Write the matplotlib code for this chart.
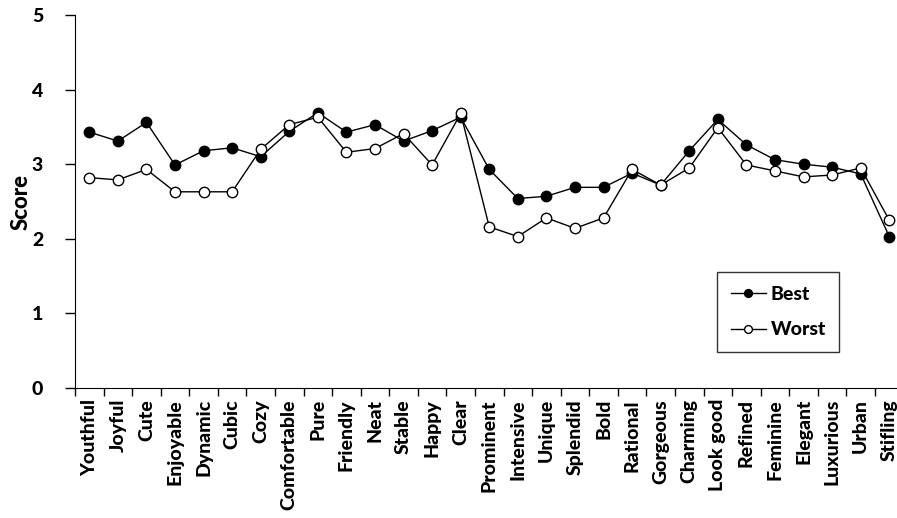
import matplotlib
matplotlib.use("Agg")
import matplotlib.pyplot as plt
import numpy as np

categories = ["Youthful", "Joyful", "Cute", "Enjoyable", "Dynamic", "Cubic", "Cozy",
              "Comfortable", "Pure", "Friendly", "Neat", "Stable", "Happy", "Clear",
              "Prominent", "Intensive", "Unique", "Splendid", "Bold", "Rational",
              "Gorgeous", "Charming", "Look good", "Refined", "Feminine", "Elegant",
              "Luxurious", "Urban", "Stifling"]
best = [3.43, 3.31, 3.56, 2.99, 3.18, 3.22, 3.10, 3.44, 3.69, 3.43, 3.53, 3.31, 3.45, 3.63,
        2.93, 2.54, 2.57, 2.69, 2.69, 2.88, 2.72, 3.18, 3.60, 3.26, 3.06, 3.00, 2.96, 2.87, 2.03]
worst = [2.82, 2.79, 2.93, 2.63, 2.63, 2.63, 3.20, 3.53, 3.63, 3.16, 3.21, 3.41, 2.99, 3.68,
         2.16, 2.03, 2.28, 2.14, 2.28, 2.93, 2.72, 2.95, 3.49, 2.99, 2.91, 2.83, 2.855, 2.95, 2.25]
yticks = [0, 1, 2, 3, 4, 5]

plt.rcParams['font.family'] = ['Lato', 'DejaVu Sans']

W, H = 897, 518
fig = plt.figure(figsize=(W / 100, H / 100), dpi=100)
n = len(categories)
cat_w = 28.57
ax_w = n * cat_w
ax_h = 388 - 15
ax = fig.add_axes([75 / W, 1 - 388 / H, ax_w / W, ax_h / H])
x = np.arange(n)
ax.plot(x, best, color='black', lw=1.0, marker='o', ms=7.5, mfc='black', mec='black',
        label='Best', zorder=3)
ax.plot(x, worst, color='black', lw=1.0, marker='o', ms=7.5, mfc='white', mec='black',
        mew=1.0, label='Worst', zorder=3)

ax.set_xlim(-0.5, n - 0.5)
ax.set_ylim(0, 5)
ax.set_yticks(yticks)
ax.set_yticklabels([str(v) for v in yticks], fontsize=14, fontweight='black')
ax.set_xticks(np.arange(-0.5, n + 0.5, 1.0))
ax.set_xticklabels([])
ax.set_xticks(x, minor=True)
ax.set_xticklabels(categories, minor=True, rotation=90, fontsize=14, fontweight='black')
ax.tick_params(axis='x', which='minor', length=0, pad=8)
ax.tick_params(axis='x', which='major', direction='out', length=6, width=1)
ax.tick_params(axis='y', direction='out', length=7, width=1, pad=20)
for lab in ax.get_yticklabels():
    lab.set_horizontalalignment('center')
ax.spines['top'].set_visible(False)
ax.spines['right'].set_visible(False)
ax.set_ylabel('Score', fontsize=16, fontweight='black', labelpad=0)

leg = ax.legend(loc='lower left', bbox_to_anchor=((717 - 75) / ax_w, (388 - 352) / ax_h),
                frameon=True, fancybox=False, edgecolor='black', fontsize=14,
                handlelength=1.8, borderpad=0.7, labelspacing=0.95, handletextpad=0.25,
                borderaxespad=0, markerscale=0.75)
leg.get_frame().set_linewidth(1.0)
for t in leg.get_texts():
    t.set_fontweight('black')

fig.savefig('out.png', dpi=100)
